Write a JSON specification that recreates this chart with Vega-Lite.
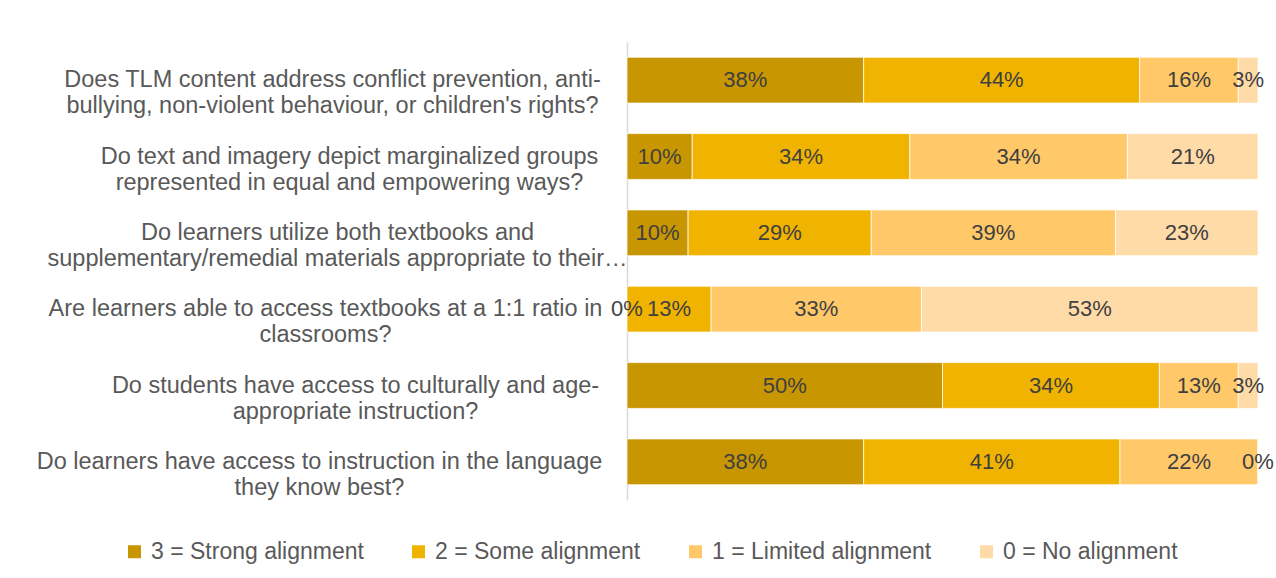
{
  "$schema": "https://vega.github.io/schema/vega-lite/v6.json",
  "width": 631,
  "height": 458,
  "autosize": {"type": "none"},
  "padding": {"left": 627, "top": 42, "right": 18, "bottom": 78},
  "background": "white",
  "config": {
    "view": {"stroke": null},
    "font": "Liberation Sans"
  },
  "data": {
    "values": [
      {"question": "Does TLM content address conflict prevention, anti-|bullying, non-violent behaviour, or children's rights?", "level": "3 = Strong alignment", "code": 3, "value": 0.375},
      {"question": "Does TLM content address conflict prevention, anti-|bullying, non-violent behaviour, or children's rights?", "level": "2 = Some alignment", "code": 2, "value": 0.4375},
      {"question": "Does TLM content address conflict prevention, anti-|bullying, non-violent behaviour, or children's rights?", "level": "1 = Limited alignment", "code": 1, "value": 0.15625},
      {"question": "Does TLM content address conflict prevention, anti-|bullying, non-violent behaviour, or children's rights?", "level": "0 = No alignment", "code": 0, "value": 0.03125},
      {"question": "Do text and imagery depict marginalized groups|represented in equal and empowering ways?", "level": "3 = Strong alignment", "code": 3, "value": 0.1034},
      {"question": "Do text and imagery depict marginalized groups|represented in equal and empowering ways?", "level": "2 = Some alignment", "code": 2, "value": 0.3448},
      {"question": "Do text and imagery depict marginalized groups|represented in equal and empowering ways?", "level": "1 = Limited alignment", "code": 1, "value": 0.3448},
      {"question": "Do text and imagery depict marginalized groups|represented in equal and empowering ways?", "level": "0 = No alignment", "code": 0, "value": 0.207},
      {"question": "Do learners utilize both textbooks and|supplementary/remedial materials appropriate to their…", "level": "3 = Strong alignment", "code": 3, "value": 0.0968},
      {"question": "Do learners utilize both textbooks and|supplementary/remedial materials appropriate to their…", "level": "2 = Some alignment", "code": 2, "value": 0.2903},
      {"question": "Do learners utilize both textbooks and|supplementary/remedial materials appropriate to their…", "level": "1 = Limited alignment", "code": 1, "value": 0.3871},
      {"question": "Do learners utilize both textbooks and|supplementary/remedial materials appropriate to their…", "level": "0 = No alignment", "code": 0, "value": 0.2258},
      {"question": "Are learners able to access textbooks at a 1:1 ratio in|classrooms?", "level": "3 = Strong alignment", "code": 3, "value": 0},
      {"question": "Are learners able to access textbooks at a 1:1 ratio in|classrooms?", "level": "2 = Some alignment", "code": 2, "value": 0.1333},
      {"question": "Are learners able to access textbooks at a 1:1 ratio in|classrooms?", "level": "1 = Limited alignment", "code": 1, "value": 0.3333},
      {"question": "Are learners able to access textbooks at a 1:1 ratio in|classrooms?", "level": "0 = No alignment", "code": 0, "value": 0.5334},
      {"question": "Do students have access to culturally and age-|appropriate instruction?", "level": "3 = Strong alignment", "code": 3, "value": 0.5},
      {"question": "Do students have access to culturally and age-|appropriate instruction?", "level": "2 = Some alignment", "code": 2, "value": 0.34375},
      {"question": "Do students have access to culturally and age-|appropriate instruction?", "level": "1 = Limited alignment", "code": 1, "value": 0.125},
      {"question": "Do students have access to culturally and age-|appropriate instruction?", "level": "0 = No alignment", "code": 0, "value": 0.03125},
      {"question": "Do learners have access to instruction in the language|they know best?", "level": "3 = Strong alignment", "code": 3, "value": 0.375},
      {"question": "Do learners have access to instruction in the language|they know best?", "level": "2 = Some alignment", "code": 2, "value": 0.40625},
      {"question": "Do learners have access to instruction in the language|they know best?", "level": "1 = Limited alignment", "code": 1, "value": 0.21875},
      {"question": "Do learners have access to instruction in the language|they know best?", "level": "0 = No alignment", "code": 0, "value": 0}
    ]
  },
  "transform": [
    {"stack": "value", "groupby": ["question"], "sort": [{"field": "code", "order": "descending"}], "as": ["v0", "v1"]},
    {"calculate": "(datum.v0 + datum.v1) / 2", "as": "vmid"}
  ],
  "encoding": {
    "y": {
      "field": "question",
      "type": "nominal",
      "sort": null,
      "scale": {"paddingInner": 0.4, "paddingOuter": 0.2},
      "axis": {
        "title": null,
        "ticks": false,
        "domainColor": "#D9D9D9",
        "domainWidth": 1.5,
        "labelExpr": "split(datum.label, '|')",
        "labelAlign": "center",
        "labelBaseline": "middle",
        "labelPadding": {
          "condition": [
            {"test": "indexof(datum.value, 'Does TLM') === 0", "value": 295},
            {"test": "indexof(datum.value, 'Do text') === 0", "value": 278},
            {"test": "indexof(datum.value, 'Do learners u') === 0", "value": 290},
            {"test": "indexof(datum.value, 'Are learners') === 0", "value": 302},
            {"test": "indexof(datum.value, 'Do students') === 0", "value": 272}
          ],
          "value": 308
        },
        "labelLimit": 0,
        "labelFontSize": 23.5,
        "labelLineHeight": 26,
        "labelColor": "#595959",
        "labelFont": "Liberation Sans"
      }
    }
  },
  "layer": [
    {
      "mark": {"type": "bar", "stroke": "white", "strokeWidth": 0.75},
      "encoding": {
        "x": {"field": "v0", "type": "quantitative", "scale": {"domain": [0, 1], "nice": false}, "axis": null},
        "x2": {"field": "v1"},
        "color": {
          "field": "level",
          "type": "nominal",
          "scale": {
            "domain": ["3 = Strong alignment", "2 = Some alignment", "1 = Limited alignment", "0 = No alignment"],
            "range": ["#C89600", "#F0B400", "#FFC869", "#FFDBA8"]
          },
          "legend": {
            "title": null,
            "orient": "none",
            "direction": "horizontal",
            "legendX": -504,
            "legendY": 498,
            "symbolType": "square",
            "symbolSize": 169,
            "symbolStrokeWidth": 0,
            "symbolOpacity": 1,
            "labelFontSize": 23,
            "labelColor": "#595959",
            "labelFont": "Liberation Sans",
            "labelOffset": 5,
            "columnPadding": 43,
            "labelLimit": 400
          }
        }
      }
    },
    {
      "mark": {"type": "text", "fontSize": 22, "color": "#404040", "font": "Liberation Sans", "baseline": "middle", "align": "center"},
      "encoding": {
        "x": {"field": "vmid", "type": "quantitative"},
        "text": {"field": "value", "type": "quantitative", "format": ".0%"}
      }
    }
  ]
}
